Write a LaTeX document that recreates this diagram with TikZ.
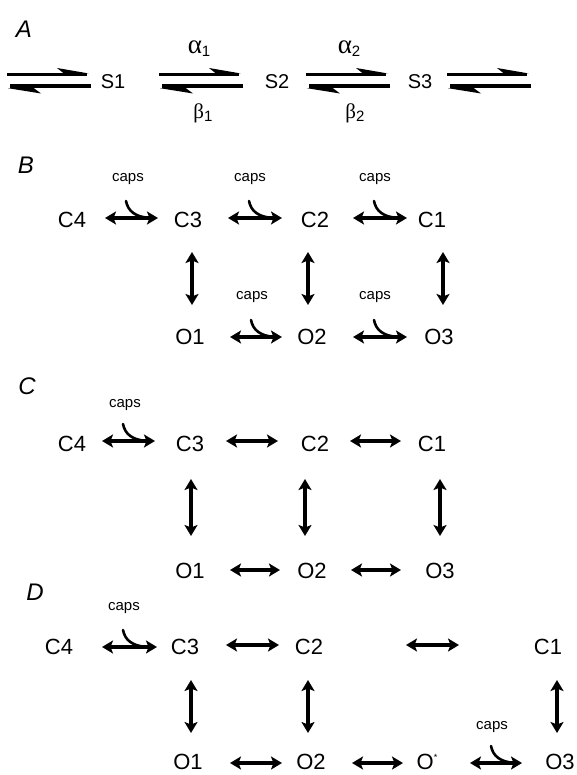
\documentclass[tikz,border=0pt]{standalone}
\usepackage{fontspec}
\setmainfont{Liberation Sans}
\newfontfamily\grk{Liberation Serif}
\usetikzlibrary{arrows.meta,calc}
\newcommand\mysub[1]{{\normalfont\fontsize{15}{15}\selectfont\raisebox{-3pt}{#1}}}
\begin{document}
\begin{tikzpicture}[x=1pt,y=-1pt,
  lbl/.style={inner sep=0pt, font=\fontsize{22}{22}\selectfont},
  slbl/.style={inner sep=0pt, font=\fontsize{20}{20}\selectfont},
  panel/.style={inner sep=0pt, font=\fontsize{24}{24}\selectfont\itshape},
  capslbl/.style={inner sep=0pt, font=\fontsize{15}{15}\selectfont},
  grklbl/.style={inner sep=0pt, anchor=base, font=\grk},
  dbl/.style={line width=3.1pt, {Stealth[length=11pt,width=13pt,inset=2.5pt]}-{Stealth[length=11pt,width=13pt,inset=2.5pt]}},
  hookline/.style={line width=2.6pt, line cap=round},
  hook/.pic={\draw[hookline] (21,-17) .. controls (23,-7) and (30,-1) .. (45,0);},
  eqarr/.pic={
    \draw[line width=3pt] (0,-5.5) -- (80,-5.5);
    \fill (82,-7) -- (50,-12.5) -- (57,-7) -- cycle;
    \draw[line width=4.5pt] (3,5.5) -- (84,5.5);
    \fill (1,7.7) -- (34,13) -- (27,7.7) -- cycle;
  }
]
\useasboundingbox (0,0) rectangle (577,775);

% ---------- Panel A ----------
\node[panel] (A) at (24,29) {A};
\node[slbl] (S1) at (113,82) {S1};
\node[slbl] (S2) at (277,82) {S2};
\node[slbl] (S3) at (420,82) {S3};
\node[grklbl] (al1) at (199,54) {\fontsize{27}{27}\selectfont α\mysub{1}};
\node[grklbl] (al2) at (349,54) {\fontsize{27}{27}\selectfont α\mysub{2}};
\node[grklbl] (be1) at (203,119) {\fontsize{21}{21}\selectfont β\mysub{1}};
\node[grklbl] (be2) at (355,119) {\fontsize{21}{21}\selectfont β\mysub{2}};
\coordinate (e0) at (7,80.5);
\coordinate (e1) at (159,80.5);
\coordinate (e2) at (306,80.5);
\coordinate (e3) at (447,80.5);
\pic at (e0) {eqarr};
\pic at (e1) {eqarr};
\pic at (e2) {eqarr};
\pic at (e3) {eqarr};

% ---------- Panel B ----------
\node[panel] (B) at (26,165) {B};
\node[lbl] (bC4) at (72,220) {C4};
\node[lbl] (bC3) at (188,220) {C3};
\node[lbl] (bC2) at (315,220) {C2};
\node[lbl] (bC1) at (432,220) {C1};
\node[lbl] (bO1) at (190,337) {O1};
\node[lbl] (bO2) at (312,337) {O2};
\node[lbl] (bO3) at (439,337) {O3};
\node[capslbl] (bk1) at (128,179) {caps};
\node[capslbl] (bk2) at (250,179) {caps};
\node[capslbl] (bk3) at (375,179) {caps};
\node[capslbl] (bk4) at (252,297) {caps};
\node[capslbl] (bk5) at (375,297) {caps};
\draw[dbl] ($(bC4)+(33,-2)$) -- ($(bC3)+(-30,-2)$);
\draw[dbl] ($(bC3)+(40,-2)$) -- ($(bC2)+(-33,-2)$);
\draw[dbl] ($(bC2)+(38,-2)$) -- ($(bC1)+(-25,-2)$);
\draw[dbl] ($(bO1)+(40,0)$) -- ($(bO2)+(-30,0)$);
\draw[dbl] ($(bO2)+(41,0)$) -- ($(bO3)+(-32,0)$);
\draw[dbl] ($(bC3)+(4,32)$) -- ($(bO1)+(2,-32)$);
\draw[dbl] ($(bC2)+(-7,32)$) -- ($(bO2)+(-4,-32)$);
\draw[dbl] ($(bC1)+(11,32)$) -- ($(bO3)+(4,-32)$);
\pic at ($(bC4)+(33,-2)$) {hook};
\pic at ($(bC3)+(40,-2)$) {hook};
\pic at ($(bC2)+(38,-2)$) {hook};
\pic at ($(bO1)+(40,0)$) {hook};
\pic at ($(bO2)+(41,0)$) {hook};

% ---------- Panel C ----------
\node[panel] (C) at (27,386) {C};
\node[lbl] (cC4) at (72,444) {C4};
\node[lbl] (cC3) at (190,444) {C3};
\node[lbl] (cC2) at (315,444) {C2};
\node[lbl] (cC1) at (432,444) {C1};
\node[lbl] (cO1) at (190,571) {O1};
\node[lbl] (cO2) at (312,571) {O2};
\node[lbl] (cO3) at (440,571) {O3};
\node[capslbl] (ck1) at (125,405) {caps};
\draw[dbl] ($(cC4)+(30,-3)$) -- ($(cC3)+(-35,-3)$);
\draw[dbl] ($(cC3)+(36,-3)$) -- ($(cC2)+(-37,-3)$);
\draw[dbl] ($(cC2)+(35,-3)$) -- ($(cC1)+(-31,-3)$);
\draw[dbl] ($(cO1)+(40,-1)$) -- ($(cO2)+(-32,-1)$);
\draw[dbl] ($(cO2)+(39,-1)$) -- ($(cO3)+(-39,-1)$);
\draw[dbl] ($(cC3)+(1,35)$) -- ($(cO1)+(1,-35)$);
\draw[dbl] ($(cC2)+(-10,35)$) -- ($(cO2)+(-7,-35)$);
\draw[dbl] ($(cC1)+(8,35)$) -- ($(cO3)+(0,-35)$);
\pic at ($(cC4)+(30,-3)$) {hook};

% ---------- Panel D ----------
\node[panel] (D) at (35,592) {D};
\node[lbl] (dC4) at (59,647) {C4};
\node[lbl] (dC3) at (185,647) {C3};
\node[lbl] (dC2) at (309,647) {C2};
\node[lbl] (dC1) at (548,647) {C1};
\node[lbl] (dO1) at (188,762) {O1};
\node[lbl] (dO2) at (311,762) {O2};
\node[lbl, anchor=west] (dOs) at (416.5,762) {O\raisebox{9pt}{\fontsize{9}{9}\selectfont *}};
\node[lbl] (dO3) at (560,762) {O3};
\node[capslbl] (dk1) at (124,608) {caps};
\node[capslbl] (dk2) at (492,727) {caps};
\coordinate (df1) at (406,645);
\coordinate (df2) at (459,645);
\draw[dbl] ($(dC4)+(43,0)$) -- ($(dC3)+(-28,0)$);
\draw[dbl] ($(dC3)+(41,-2)$) -- ($(dC2)+(-30,-2)$);
\draw[dbl] (df1) -- (df2);
\draw[dbl] ($(dO1)+(42,1)$) -- ($(dO2)+(-29,1)$);
\draw[dbl] ($(dO2)+(41,1)$) -- ($(dOs.west)+(-13.5,1)$);
\draw[dbl] ($(dOs.west)+(53.5,1)$) -- ($(dO3)+(-38,1)$);
\draw[dbl] ($(dC3)+(6,33)$) -- ($(dO1)+(3,-29)$);
\draw[dbl] ($(dC2)+(-1,33)$) -- ($(dO2)+(-3,-29)$);
\draw[dbl] ($(dC1)+(9,33)$) -- ($(dO3)+(-3,-29)$);
\pic at ($(dC4)+(43,0)$) {hook};
\pic at ($(dOs.west)+(53.5,1)$) {hook};
\end{tikzpicture}
\end{document}
